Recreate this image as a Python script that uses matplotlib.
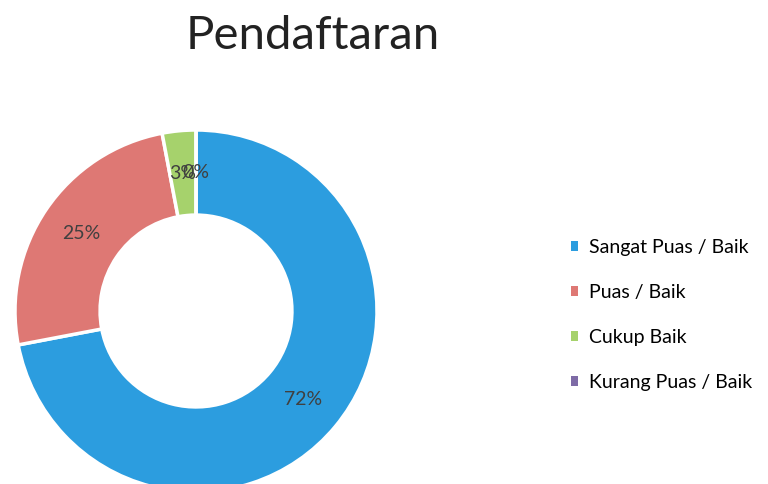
import matplotlib.pyplot as plt
from matplotlib.patches import Rectangle

categories = ['Sangat Puas / Baik', 'Puas / Baik', 'Cukup Baik', 'Kurang Puas / Baik']
values = [72, 25, 3, 0]
colors = ['#2C9DDF', '#DE7874', '#A6D26C', '#7E6BA6']
title = 'Pendaftaran'

fig = plt.figure(figsize=(7.68, 4.84), dpi=100)
ax = fig.add_axes([15 / 768, -8 / 484, 362 / 768, 362 / 484])

wedges, texts, autotexts = ax.pie(
    values, colors=colors, startangle=90, counterclock=False,
    autopct='%.0f%%', pctdistance=0.765,
    wedgeprops=dict(width=0.47, edgecolor='white', linewidth=2.5),
    textprops=dict(color='#404040', fontsize=14, family='Lato'))
ax.set_xlim(-1, 1)
ax.set_ylim(-1, 1)
ax.set_aspect('equal')

fig.text(313 / 768, 1 - 36 / 484, title, ha='center', va='center',
         fontsize=34, family='Lato', color='#222222')

# legend squares without the white wedge border
handles = [Rectangle((0, 0), 1, 1, facecolor=w.get_facecolor(), edgecolor='none')
           for w in wedges]
fig.legend(handles, categories, loc='center left',
           bbox_to_anchor=(553 / 768, 1 - 315 / 484),
           frameon=False, handlelength=0.4, handleheight=0.4,
           handletextpad=0.55, labelspacing=1.45,
           prop=dict(family='Lato', size=14))

fig.savefig('out.png', dpi=100, facecolor='white')
